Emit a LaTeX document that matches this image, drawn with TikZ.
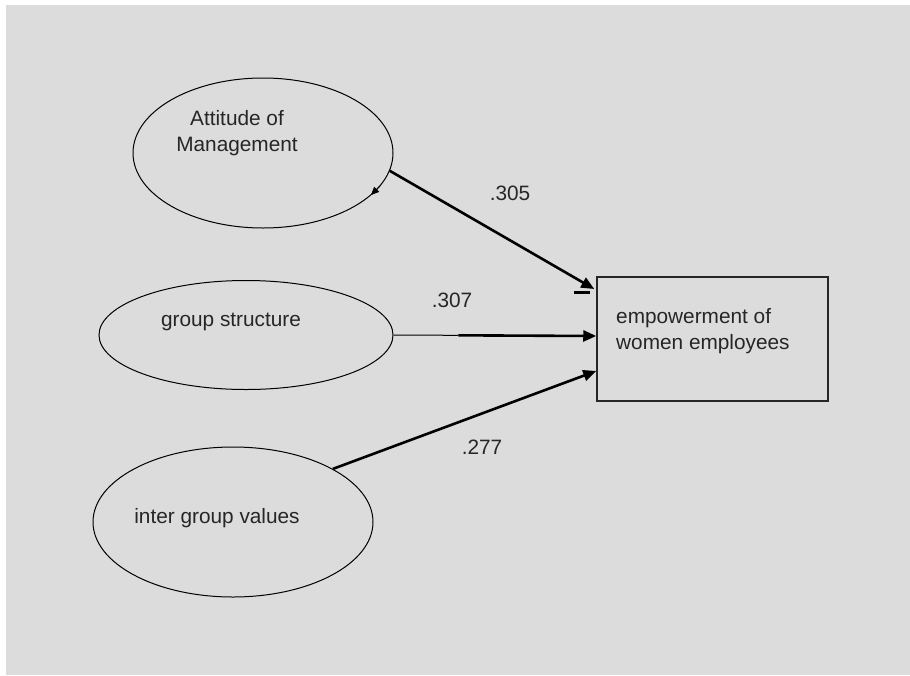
\documentclass[tikz,border=0pt]{standalone}
\usepackage{fontspec}
\setmainfont{Liberation Sans}
\usetikzlibrary{shapes.geometric,arrows.meta,calc}
\definecolor{bggray}{RGB}{220,220,220}
\tikzset{
  latent/.style={draw=black,line width=1pt,ellipse,inner sep=0pt},
  txt/.style={font=\fontsize{20.8}{26.5}\selectfont,inner sep=0pt,text=black!85},
  obsbox/.style={draw=black!85,line width=1.5pt,rectangle,inner sep=0pt},
  path/.style={line width=2.6pt,-{Triangle[length=13pt,width=11pt]}},
  coef/.style={font=\fontsize{20.8}{24}\selectfont,inner sep=0pt,text=black!85}
}
\begin{document}
\begin{tikzpicture}[x=1pt,y=-1pt]
\useasboundingbox (0,0) rectangle (910,675);
\fill[white] (0,0) rectangle (910,675);
\fill[bggray] (6,5) rectangle (910,675);
% latent variables
\node[latent,minimum width=260pt,minimum height=150pt] (e1) at (263,153) {};
\node[latent,minimum width=294pt,minimum height=109pt] (e2) at (246,335) {};
\node[latent,minimum width=280pt,minimum height=150pt] (e3) at (233,522) {};
\node[txt,align=center] (t1) at (237,133) {Attitude of\\Management};
\node[txt] (t2) at (231,322) {group structure};
\node[txt] (t3) at (217,518) {inter group values};
% outcome
\node[obsbox,minimum width=231pt,minimum height=124pt] (r) at (712.5,339) {};
\node[txt,align=left,anchor=west] (t4) at (616,331) {empowerment of\\women employees};
% paths
\coordinate (a1) at ($(r.west)+(-2,-50)$);
\coordinate (a2) at ($(r.west)+(0,-3)$);
\coordinate (a3) at ($(r.west)+(0,32)$);
\coordinate (m2) at ($(e2.east)!0.32!(a2)$);
\draw[path] (e1.-8) -- (a1);
\draw[line width=1pt] (e2.east) -- (m2);
\draw[path] (m2) -- (a2);
\draw[path] (e3.28) -- (a3);
% small artefacts of the original drawing
\coordinate (d1) at ($(a1)+(-20,3)$);
\coordinate (d2) at ($(a1)+(-4,3)$);
\draw[line width=3pt] (d1) -- (d2);
\coordinate (s1) at (380,186);
\coordinate (s2) at (371,195);
\draw[line width=0.8pt,-{Triangle[length=8pt,width=7pt]}] (s1) -- (s2);
% coefficients
\node[coef] (c1) at (510,193) {.305};
\node[coef] (c2) at (452,300) {.307};
\node[coef] (c3) at (482,447) {.277};
\end{tikzpicture}
\end{document}
